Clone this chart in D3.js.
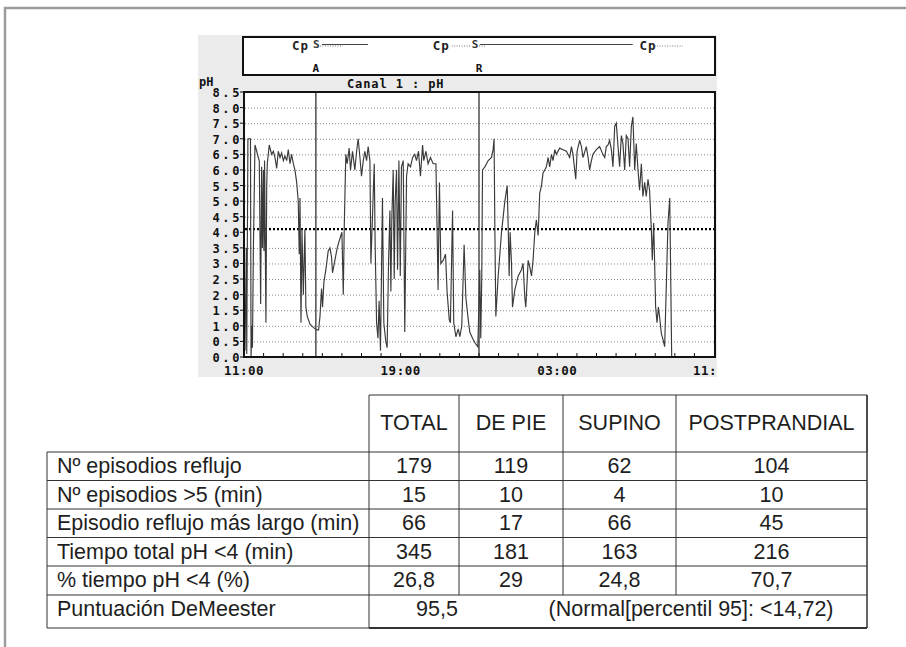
<!DOCTYPE html>
<html>
<head>
<meta charset="utf-8">
<script src="https://cdn.jsdelivr.net/npm/d3@7"></script>
<style>
  body { margin: 0; background: #fff; }
  svg { display: block; }
</style>
</head>
<body>
<svg id="chart" width="906" height="647"></svg>
<script>
// ---- 24 h pH recording (hours after 11:00) ----
const hours = [
  0.05, 0.12, 0.14, 0.20, 0.33, 0.36, 0.40, 0.43, 0.48, 0.56, 0.65, 0.73, 0.78, 0.85, 0.90, 0.94, 0.99, 1.02, 1.05, 1.12,
  1.16, 1.19, 1.29, 1.41, 1.50, 1.58, 1.67, 1.75, 1.84, 1.92, 2.01, 2.09, 2.18, 2.26, 2.35, 2.43, 2.52, 2.60, 2.69, 2.77,
  2.82, 2.86, 2.91, 2.96, 3.03, 3.11, 3.16, 3.23, 3.37, 3.54, 3.71, 3.81, 3.88, 3.96, 4.01, 4.08, 4.18, 4.30, 4.39, 4.47,
  4.52, 4.64, 4.76, 4.90, 5.00, 5.07, 5.12, 5.20, 5.27, 5.37, 5.44, 5.54, 5.66, 5.75, 5.83, 5.92, 6.00, 6.09, 6.17, 6.26,
  6.34, 6.43, 6.48, 6.56, 6.65, 6.70, 6.77, 6.84, 6.90, 6.97, 7.07, 7.14, 7.24, 7.31, 7.38, 7.45, 7.50, 7.55, 7.62, 7.67,
  7.72, 7.79, 7.84, 7.91, 7.98, 8.04, 8.13, 8.21, 8.30, 8.38, 8.50, 8.61, 8.72, 8.81, 8.91, 9.01, 9.12, 9.18, 9.29, 9.40,
  9.52, 9.66, 9.80, 9.86, 9.91, 9.98, 10.05, 10.17, 10.29, 10.37, 10.48, 10.54, 10.65, 10.71, 10.82, 10.94, 11.02, 11.12, 11.24, 11.33,
  11.45, 11.53, 11.67, 11.80, 11.94, 12.04, 12.09, 12.14, 12.18, 12.30, 12.47, 12.64, 12.72, 12.77, 12.81, 12.86, 12.98, 13.15, 13.32, 13.44,
  13.49, 13.54, 13.59, 13.66, 13.71, 13.83, 14.00, 14.17, 14.25, 14.34, 14.39, 14.51, 14.59, 14.68, 14.76, 14.85, 14.93, 15.02, 15.10, 15.19,
  15.27, 15.36, 15.44, 15.53, 15.61, 15.70, 15.78, 15.87, 15.95, 16.12, 16.29, 16.46, 16.63, 16.72, 16.80, 16.94, 17.01, 17.14, 17.23, 17.31,
  17.48, 17.57, 17.65, 17.74, 17.82, 17.99, 18.16, 18.33, 18.42, 18.50, 18.59, 18.67, 18.76, 18.84, 18.93, 19.01, 19.10, 19.18, 19.27, 19.35,
  19.44, 19.52, 19.61, 19.69, 19.78, 19.86, 19.95, 20.03, 20.12, 20.20, 20.29, 20.37, 20.46, 20.54, 20.63, 20.71, 20.75, 20.80, 20.85, 20.92,
  20.97, 21.02, 21.09, 21.16, 21.22, 21.31, 21.40, 21.48, 21.57, 21.65, 21.74, 21.79, 21.84
];
const phValues = [
  0.2, 3.5, 0.1, 7.0, 7.0, 0.0, 1.0, 0.3, 3.5, 6.8, 6.6, 6.4, 6.3, 1.7, 6.1, 3.5, 6.0, 3.4, 6.3, 1.1,
  5.5, 6.2, 6.8, 6.5, 6.6, 6.4, 6.05, 6.6, 6.4, 6.55, 6.3, 6.45, 6.3, 6.65, 6.2, 6.5, 6.2, 6.0, 5.6, 5.0,
  3.3, 5.1, 1.1, 4.1, 2.0, 4.1, 1.6, 1.3, 1.05, 0.95, 0.87, 0.87, 1.3, 2.2, 1.6, 2.4, 2.8, 3.4, 3.5, 3.2,
  2.7, 3.1, 3.5, 3.8, 4.0, 2.0, 4.2, 6.5, 6.2, 6.7, 6.0, 6.6, 6.0, 6.6, 7.0, 6.4, 5.8, 6.3, 6.6, 6.3,
  6.75, 6.3, 3.0, 4.5, 6.2, 3.5, 1.1, 0.6, 1.8, 0.2, 5.1, 1.1, 0.5, 0.3, 3.0, 4.7, 2.1, 4.5, 6.0, 2.5,
  5.0, 6.0, 2.8, 6.3, 2.6, 6.1, 6.3, 0.8, 5.8, 6.2, 6.1, 6.4, 6.5, 6.3, 6.6, 5.8, 6.8, 6.3, 6.6, 6.2,
  6.4, 6.2, 6.2, 4.1, 2.15, 5.6, 3.0, 3.1, 3.3, 2.1, 1.2, 1.1, 4.7, 1.1, 0.65, 0.9, 0.65, 1.0, 3.6, 1.9,
  1.2, 0.8, 0.6, 0.45, 0.33, 2.8, 0.6, 2.5, 6.0, 6.1, 6.3, 6.4, 6.65, 7.0, 4.1, 1.3, 2.6, 4.0, 5.0, 5.5,
  4.2, 2.6, 4.0, 3.0, 1.6, 2.15, 2.6, 2.8, 3.0, 1.9, 1.6, 3.1, 2.9, 2.6, 3.1, 4.0, 4.4, 3.9, 5.25, 5.5,
  5.9, 6.0, 6.1, 6.4, 6.1, 6.5, 6.3, 6.65, 6.5, 6.7, 6.65, 6.6, 6.4, 6.75, 6.5, 5.7, 6.6, 6.95, 6.75, 6.4,
  6.75, 6.4, 6.0, 6.3, 6.5, 6.65, 6.75, 6.5, 6.4, 6.75, 6.8, 6.95, 6.65, 6.1, 7.4, 7.5, 6.75, 6.1, 7.1, 6.85,
  6.0, 7.1, 7.0, 6.1, 7.4, 7.7, 6.0, 6.85, 6.0, 5.35, 6.2, 5.15, 5.6, 5.15, 5.7, 5.35, 4.8, 4.1, 3.1, 4.3,
  3.0, 1.6, 1.1, 1.6, 1.3, 0.76, 0.55, 0.33, 2.4, 4.3, 5.1, 2.5, 0.0
];

// ---- axes ----
const phTicks = d3.range(0, 8.5001, 0.5);
const timeTicks = [0, 8, 16, 24];
const timeLabels = ["11:00", "19:00", "03:00", "11:"];
const acidThreshold = 4.1;

// ---- event channel (hours after 11:00) ----
const markerHours = [3.67, 12.0];
const markerLabels = ["A", "R"];
const mealHours = [2.45, 9.64, 20.2];
const supineHours = [3.52, 11.63];
const mealPeriods = [[3.88, 5.05], [10.6, 11.63], [12.0, 12.3], [20.97, 22.4]];
const supinePeriods = [[3.98, 6.33], [12.04, 19.85]];

// ---- summary table ----
const columns = ["TOTAL", "DE PIE", "SUPINO", "POSTPRANDIAL"];
const rowLabels = [
  "Nº episodios reflujo",
  "Nº episodios >5 (min)",
  "Episodio reflujo más largo (min)",
  "Tiempo total pH <4 (min)",
  "% tiempo pH <4 (%)"
];
const totalVals = [179, 15, 66, 345, 26.8];
const standingVals = [119, 10, 17, 181, 29];
const supineVals = [62, 4, 66, 163, 24.8];
const postprandialVals = [104, 10, 45, 216, 70.7];
const scoreLabel = "Puntuación DeMeester";
const demeesterScore = 95.5;
const normalLimit = 14.72;

const svg = d3.select("#chart");
const mono = "'DejaVu Sans Mono', 'Liberation Mono', monospace";
const sans = "'Liberation Sans', Arial, sans-serif";
const comma = v => String(v).replace(".", ",");

// page frame
svg.append("path")
  .attr("d", "M5,647V8H906")
  .attr("fill", "none").attr("stroke", "#9c9c9c").attr("stroke-width", 2.5);

// recorder panel
svg.append("rect")
  .attr("x", 198).attr("y", 35).attr("width", 519).attr("height", 342)
  .attr("fill", "#ebebeb");

const x = d3.scaleLinear().domain([0, 24]).range([244, 714]);
const y = d3.scaleLinear().domain([0, 8.5]).range([357, 92]);

// event channel box
const evBox = svg.append("g");
evBox.append("rect")
  .attr("x", 243).attr("y", 37).attr("width", 472).attr("height", 38)
  .attr("fill", "#fff").attr("stroke", "#111").attr("stroke-width", 2);
evBox.selectAll("line.meal").data(mealPeriods).join("line")
  .attr("class", "meal")
  .attr("x1", d => x(d[0])).attr("x2", d => x(d[1]))
  .attr("y1", 46).attr("y2", 46)
  .attr("stroke", "#777").attr("stroke-width", 1).attr("stroke-dasharray", "1,1.5");
evBox.selectAll("line.sup").data(supinePeriods).join("line")
  .attr("class", "sup")
  .attr("x1", d => x(d[0])).attr("x2", d => x(d[1]))
  .attr("y1", 44.5).attr("y2", 44.5)
  .attr("stroke", "#444").attr("stroke-width", 1.2);
evBox.selectAll("text.meal").data(mealHours).join("text")
  .attr("class", "meal")
  .attr("x", d => x(d)).attr("y", 50)
  .attr("font-family", mono).attr("font-weight", "bold").attr("font-size", 12.5)
  .attr("letter-spacing", 1).attr("fill", "#222")
  .text("Cp");
evBox.selectAll("text.sup").data(supineHours).join("text")
  .attr("class", "sup")
  .attr("x", d => x(d)).attr("y", 47.5)
  .attr("font-family", mono).attr("font-weight", "bold").attr("font-size", 11)
  .attr("fill", "#333")
  .text("S");
evBox.selectAll("text.mk").data(markerHours).join("text")
  .attr("class", "mk")
  .attr("x", d => x(d)).attr("y", 72)
  .attr("text-anchor", "middle")
  .attr("font-family", mono).attr("font-weight", "bold").attr("font-size", 11)
  .attr("fill", "#111")
  .text((d, i) => markerLabels[i]);

// channel titles
svg.append("text")
  .attr("x", 199).attr("y", 86)
  .attr("font-family", mono).attr("font-weight", "bold").attr("font-size", 12)
  .attr("fill", "#111").text("pH");
svg.append("text")
  .attr("x", 347).attr("y", 88)
  .attr("font-family", mono).attr("font-weight", "bold").attr("font-size", 12)
  .attr("letter-spacing", 0.9).attr("fill", "#111").text("Canal 1 : pH");

// plot area
const plot = svg.append("g");
plot.append("rect")
  .attr("x", 244).attr("y", 92).attr("width", 471).attr("height", 265)
  .attr("fill", "#fff");

// dotted grid
plot.selectAll("line.grid")
  .data(phTicks.filter(v => v > 0 && v < 8.5 && v !== 4))
  .join("line")
  .attr("class", "grid")
  .attr("x1", 245).attr("x2", 714)
  .attr("y1", d => y(d) + 0.5).attr("y2", d => y(d) + 0.5)
  .attr("stroke", "#8a8a8a").attr("stroke-width", 1).attr("stroke-dasharray", "1,2");

// acid threshold
plot.append("line")
  .attr("x1", 245).attr("x2", 714)
  .attr("y1", y(acidThreshold)).attr("y2", y(acidThreshold))
  .attr("stroke", "#000").attr("stroke-width", 2.2).attr("stroke-dasharray", "2,2");

// event markers
plot.selectAll("line.marker").data(markerHours).join("line")
  .attr("class", "marker")
  .attr("x1", d => x(d)).attr("x2", d => x(d))
  .attr("y1", 92).attr("y2", 357)
  .attr("stroke", "#333").attr("stroke-width", 1.3);

// pH trace
const trace = hours.map((h, i) => ({ h, ph: phValues[i] }));
plot.append("path")
  .datum(trace)
  .attr("fill", "none").attr("stroke", "#3a3a3a").attr("stroke-width", 1.15)
  .attr("stroke-linejoin", "miter")
  .attr("d", d3.line().x(d => x(d.h)).y(d => y(d.ph)));

// hourly ticks
plot.selectAll("line.hour").data(d3.range(1, 24)).join("line")
  .attr("class", "hour")
  .attr("x1", d => x(d)).attr("x2", d => x(d))
  .attr("y1", 357).attr("y2", 353)
  .attr("stroke", "#111").attr("stroke-width", 1);

// frame
plot.append("rect")
  .attr("x", 244).attr("y", 92).attr("width", 471).attr("height", 265)
  .attr("fill", "none").attr("stroke", "#111").attr("stroke-width", 2);

// y axis labels + ticks
svg.selectAll("line.ytick").data(phTicks).join("line")
  .attr("class", "ytick")
  .attr("x1", 240).attr("x2", 244)
  .attr("y1", d => y(d)).attr("y2", d => y(d))
  .attr("stroke", "#111");
svg.selectAll("text.ylab").data(phTicks).join("text")
  .attr("class", "ylab")
  .attr("x", 242).attr("y", d => y(d) + 5)
  .attr("text-anchor", "end")
  .attr("font-family", mono).attr("font-weight", "bold").attr("font-size", 12)
  .attr("letter-spacing", 2.6).attr("fill", "#111")
  .text(d => d3.format(".1f")(d));

// x axis labels
svg.selectAll("text.xlab").data(timeTicks).join("text")
  .attr("class", "xlab")
  .attr("x", (d, i) => i === timeTicks.length - 1 ? x(d) - 21 : x(d))
  .attr("y", 375)
  .attr("text-anchor", (d, i) => i === timeTicks.length - 1 ? "start" : "middle")
  .attr("font-family", mono).attr("font-weight", "bold").attr("font-size", 12.5)
  .attr("letter-spacing", 0.5).attr("fill", "#111")
  .text((d, i) => timeLabels[i]);

// ---- summary table ----
const colEdges = [47, 369, 459, 563, 676, 867];
const headTop = 395, headBottom = 452;
const rowEdges = [452, 480.5, 509, 537.5, 566, 595, 628];
const tbl = svg.append("g").attr("font-family", sans).attr("fill", "#1e1e1e");
const lineColor = "#333";
const fs = 21.5;

function hline(x1, x2, yy, w) {
  tbl.append("line").attr("x1", x1).attr("x2", x2).attr("y1", yy).attr("y2", yy)
    .attr("stroke", lineColor).attr("stroke-width", w || 1);
}
function vline(xx, y1, y2, w) {
  tbl.append("line").attr("x1", xx).attr("x2", xx).attr("y1", y1).attr("y2", y2)
    .attr("stroke", lineColor).attr("stroke-width", w || 1);
}

// header grid
hline(colEdges[1], colEdges[5], headTop);
colEdges.slice(1).forEach(cx => vline(cx, headTop, headBottom));
// body horizontal rules
rowEdges.slice(0, -1).forEach(ry => hline(colEdges[0], colEdges[5], ry));
hline(colEdges[0], colEdges[1], rowEdges[6]);
hline(colEdges[1], colEdges[5], rowEdges[6], 2);
// body vertical rules
vline(colEdges[0], rowEdges[0], rowEdges[6]);
vline(colEdges[1], rowEdges[0], rowEdges[6]);
colEdges.slice(2, 5).forEach(cx => vline(cx, rowEdges[0], rowEdges[5]));
vline(colEdges[5], headTop, rowEdges[6], 1.5);

// header labels
tbl.selectAll("text.head").data(columns).join("text")
  .attr("class", "head")
  .attr("x", (d, i) => (colEdges[i + 1] + colEdges[i + 2]) / 2)
  .attr("y", 430)
  .attr("text-anchor", "middle").attr("font-size", fs)
  .text(d => d);

// row labels
tbl.selectAll("text.rl").data(rowLabels.concat([scoreLabel])).join("text")
  .attr("class", "rl")
  .attr("x", 57)
  .attr("y", (d, i) => rowEdges[i] + 21)
  .attr("font-size", fs)
  .text(d => d);

// values
const valueCols = [totalVals, standingVals, supineVals, postprandialVals];
valueCols.forEach((vals, c) => {
  tbl.selectAll("text.v" + c).data(vals).join("text")
    .attr("class", "v" + c)
    .attr("x", (colEdges[c + 1] + colEdges[c + 2]) / 2)
    .attr("y", (d, i) => rowEdges[i] + 21)
    .attr("text-anchor", "middle").attr("font-size", fs)
    .text(d => comma(d));
});

// DeMeester score row
tbl.append("text")
  .attr("x", 437).attr("y", rowEdges[5] + 21)
  .attr("text-anchor", "middle").attr("font-size", fs)
  .text(comma(demeesterScore));
tbl.append("text")
  .attr("x", 691).attr("y", rowEdges[5] + 21)
  .attr("text-anchor", "middle").attr("font-size", fs)
  .text("(Normal[percentil 95]: <" + comma(normalLimit) + ")");
</script>
</body>
</html>
